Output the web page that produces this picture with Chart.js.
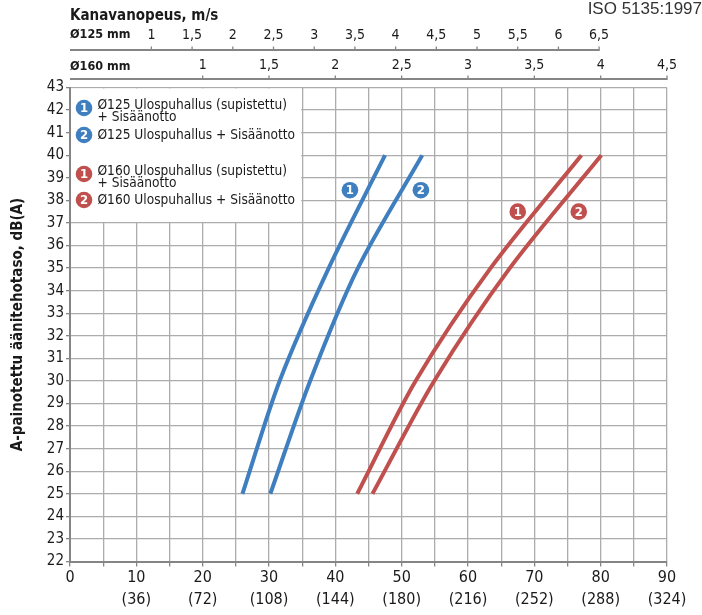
<!DOCTYPE html>
<html>
<head>
<meta charset="utf-8">
<script src="https://cdn.jsdelivr.net/npm/chart.js@4.4.1/dist/chart.umd.min.js"></script>
<style>
  html, body { margin: 0; padding: 0; background: #ffffff; }
  #wrap { width: 702px; height: 615px; }
</style>
</head>
<body>
<div id="wrap"><canvas id="chart" width="702" height="615"></canvas></div>
<script>
// ---- Data -------------------------------------------------------------
// Air flow axis, l/s with the matching m³/h value underneath
const flowTicks = [0, 10, 20, 30, 40, 50, 60, 70, 80, 90];
const flowTicksM3h = ['', '(36)', '(72)', '(108)', '(144)', '(180)', '(216)', '(252)', '(288)', '(324)'];

// Duct velocity scales, m/s
const velocity125Ticks = [1, 1.5, 2, 2.5, 3, 3.5, 4, 4.5, 5, 5.5, 6, 6.5];
const velocity160Ticks = [1, 1.5, 2, 2.5, 3, 3.5, 4, 4.5];

// Sound power level curves: air flow (l/s) at each level dB(A)
const levelDb         = [25, 30, 35, 40];
const d125ReducedFlow = [26.0, 31.6, 39.0, 47.5];
const d125Flow        = [30.2, 36.2, 43.4, 53.1];
const d160ReducedFlow = [43.3, 52.1, 63.4, 77.1];
const d160Flow        = [45.6, 54.9, 66.3, 80.1];

// Numbered curve markers
const markerFlow = [42.2, 52.9, 67.5, 76.7];
const markerDb   = [38.45, 38.45, 37.5, 37.5];
const markerNum  = ['1', '2', '1', '2'];

// Legend entries
const legendNum   = ['1', '2', '1', '2'];
const legendLines = [
  ['Ø125 Ulospuhallus (supistettu)', '+ Sisäänotto'],
  ['Ø125 Ulospuhallus + Sisäänotto'],
  ['Ø160 Ulospuhallus (supistettu)', '+ Sisäänotto'],
  ['Ø160 Ulospuhallus + Sisäänotto']
];

// ---- Styling ----------------------------------------------------------
const BLUE = '#3f7fbf';
const RED  = '#c0504d';
const legendColor = [BLUE, BLUE, RED, RED];
const markerColor = [BLUE, BLUE, RED, RED];
const FONT = '"DejaVu Sans Condensed", "Liberation Sans Narrow", "DejaVu Sans", sans-serif';
const TEXT = '#1a1a1a';
const GRID = '#acacac';
const AXIS = '#858585';

// Duct cross section (m²) converts l/s to m/s
const area125 = Math.PI * 0.0625 * 0.0625;

const toPoints = (xs, ys) => xs.map((x, i) => ({ x: x, y: ys[i] }));
const fmtComma = v => String(v).replace('.', ',');

const curve = (label, xs, ys, color) => ({
  label: label,
  data: toPoints(xs, ys),
  borderColor: color,
  backgroundColor: color,
  borderWidth: 4,
  pointRadius: 0,
  fill: false,
  tension: 0.3,
  borderCapStyle: 'butt',
  clip: false
});

function badge(ctx, x, y, r, color, txt) {
  ctx.save();
  ctx.beginPath();
  ctx.arc(x, y, r, 0, Math.PI * 2);
  ctx.fillStyle = color;
  ctx.fill();
  ctx.fillStyle = '#ffffff';
  ctx.font = 'bold 13px ' + FONT;
  ctx.textAlign = 'center';
  ctx.textBaseline = 'middle';
  ctx.fillText(txt, x, y + 0.5);
  ctx.restore();
}

const decorations = {
  id: 'decorations',
  beforeDatasetsDraw(chart) {
    // white panel behind the legend
    const { ctx, scales: { x, y } } = chart;
    const area = chart.chartArea;
    const right = x.getPixelForValue(35) - 1;
    const bottom = y.getPixelForValue(37) - 1;
    ctx.save();
    ctx.fillStyle = '#ffffff';
    ctx.fillRect(area.left + 1, area.top + 1, right - area.left - 1, bottom - area.top - 1);
    ctx.restore();
  },
  afterDatasetsDraw(chart) {
    const { ctx, scales: { x, y } } = chart;
    const area = chart.chartArea;
    // legend
    const rowY = [108, 135, 174, 200];
    ctx.save();
    legendLines.forEach((lines, i) => {
      badge(ctx, area.left + 14, rowY[i], 8.3, legendColor[i], legendNum[i]);
      ctx.fillStyle = TEXT;
      ctx.font = '13.6px ' + FONT;
      ctx.textAlign = 'left';
      ctx.textBaseline = 'middle';
      const first = lines.length > 1 ? rowY[i] - 3 : rowY[i];
      lines.forEach((t, k) => ctx.fillText(t, area.left + 27.5, first + k * 12.6));
    });
    ctx.restore();
    // numbered markers next to the curves
    markerFlow.forEach((f, i) => {
      badge(ctx, x.getPixelForValue(f), y.getPixelForValue(markerDb[i]), 8.3, markerColor[i], markerNum[i]);
    });
  },
  afterDraw(chart) {
    const { ctx } = chart;
    const s125 = chart.scales.v125;
    const s160 = chart.scales.v160;
    const area = chart.chartArea;
    ctx.save();
    // velocity axis lines with tick marks
    [[s125, velocity125Ticks, 7.5], [s160, velocity160Ticks, 8.5]].forEach(([s, ticks, gap]) => {
      const ly = s.bottom - gap;
      ctx.strokeStyle = AXIS;
      ctx.lineWidth = 2;
      ctx.beginPath();
      ctx.moveTo(area.left, ly);
      ctx.lineTo(s.getPixelForValue(ticks[ticks.length - 1]), ly);
      ctx.stroke();
      ctx.lineWidth = 1.3;
      ticks.forEach(v => {
        const px = s.getPixelForValue(v);
        ctx.beginPath();
        ctx.moveTo(px, ly - 3.5);
        ctx.lineTo(px, ly + 1);
        ctx.stroke();
      });
    });
    // captions
    ctx.fillStyle = TEXT;
    ctx.textAlign = 'left';
    ctx.textBaseline = 'middle';
    ctx.font = 'bold 15px ' + FONT;
    ctx.fillText('Kanavanopeus, m/s', area.left, 16);
    ctx.font = 'bold 12.5px ' + FONT;
    ctx.fillText('Ø125 mm', area.left, 35);
    ctx.fillText('Ø160 mm', area.left, 67);
    ctx.fillStyle = '#333333';
    ctx.font = '17px "Liberation Sans", Arial, sans-serif';
    ctx.textAlign = 'right';
    ctx.textBaseline = 'alphabetic';
    ctx.fillText('ISO 5135:1997', 702, 14);
    ctx.restore();
  }
};

const velocityAxis = (ticks, weight, max) => ({
  type: 'linear',
  position: 'top',
  weight: weight,
  min: 0,
  max: max,
  afterFit: s => { s.height = 30; },
  afterBuildTicks: s => { s.ticks = ticks.map(v => ({ value: v })); },
  grid: { display: false, drawTicks: false },
  border: { display: false },
  ticks: {
    autoSkip: false,
    maxRotation: 0,
    padding: 14,
    color: TEXT,
    font: { family: FONT, size: 14 },
    callback: v => fmtComma(v)
  }
});

new Chart(document.getElementById('chart'), {
  type: 'line',
  data: {
    datasets: [
      curve('Ø125 Ulospuhallus (supistettu) + Sisäänotto', d125ReducedFlow, levelDb, BLUE),
      curve('Ø125 Ulospuhallus + Sisäänotto', d125Flow, levelDb, BLUE),
      curve('Ø160 Ulospuhallus (supistettu) + Sisäänotto', d160ReducedFlow, levelDb, RED),
      curve('Ø160 Ulospuhallus + Sisäänotto', d160Flow, levelDb, RED)
    ]
  },
  options: {
    responsive: false,
    devicePixelRatio: 1,
    animation: false,
    events: [],
    layout: { padding: { top: 27.5, left: 0, right: 35, bottom: 0 } },
    plugins: { legend: { display: false }, tooltip: { enabled: false } },
    scales: {
      x: {
        type: 'linear',
        position: 'bottom',
        min: 0,
        max: 90,
        afterFit: s => { s.height = 53.5; },
        grid: { color: GRID, lineWidth: 1.3, tickLength: 5, tickColor: AXIS },
        border: { color: AXIS, width: 2 },
        ticks: {
          stepSize: 5,
          autoSkip: false,
          maxRotation: 0,
          padding: 0,
          color: TEXT,
          font: { family: FONT, size: 16, lineHeight: 1.4 },
          callback: v => {
            const i = flowTicks.indexOf(v);
            if (i < 0) return '';
            return flowTicksM3h[i] ? [String(v), flowTicksM3h[i]] : String(v);
          }
        }
      },
      y: {
        type: 'linear',
        min: 22,
        max: 43,
        afterFit: s => { s.width = 70; },
        grid: { color: GRID, lineWidth: 1.3, tickLength: 4, tickColor: AXIS },
        border: { color: AXIS, width: 2 },
        ticks: {
          stepSize: 1,
          autoSkip: false,
          padding: 2,
          color: TEXT,
          font: { family: FONT, size: 15 }
        },
        title: {
          display: true,
          text: 'A-painotettu äänitehotaso, dB(A)',
          color: TEXT,
          font: { family: FONT, size: 15, weight: 'bold', lineHeight: 1.2 },
          padding: { top: 9, bottom: 0 }
        }
      },
      v125: velocityAxis(velocity125Ticks, 1, 90 / 1000 / area125),
      v160: velocityAxis(velocity160Ticks, 0, 4.5)
    }
  },
  plugins: [decorations]
});
</script>
</body>
</html>
